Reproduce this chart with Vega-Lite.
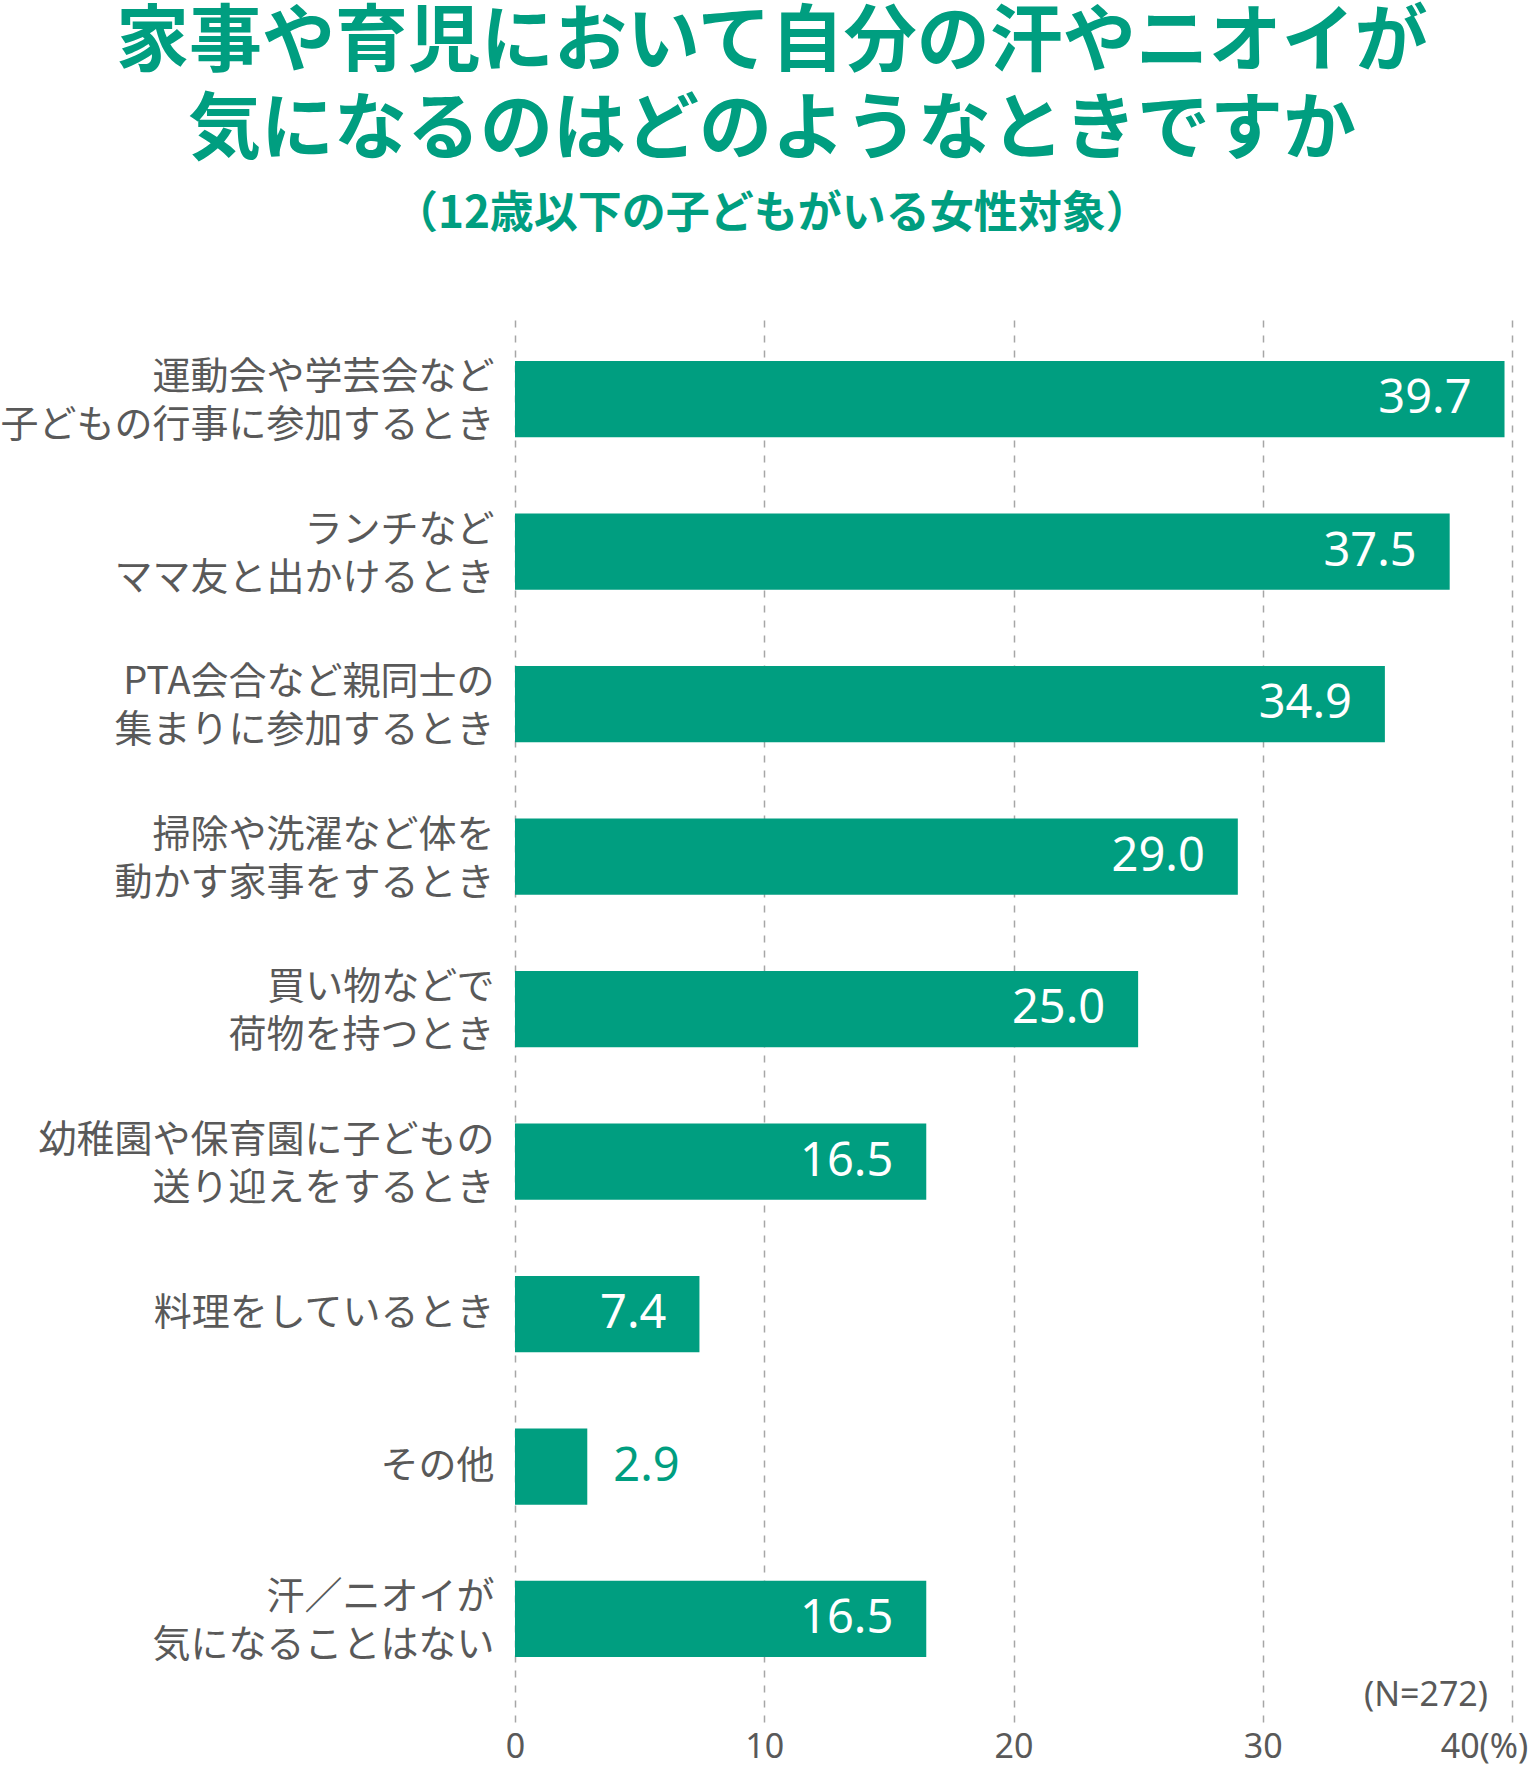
{
  "$schema": "https://vega.github.io/schema/vega-lite/v6.json",
  "description": "家事や育児において自分の汗やニオイが気になるとき",
  "autosize": {"type": "none"},
  "width": 997,
  "height": 1409,
  "padding": {"left": 515, "top": 313, "right": 28, "bottom": 43},
  "background": "white",
  "title": {
    "text": ["家事や育児において自分の汗やニオイが", "気になるのはどのようなときですか"],
    "subtitle": "（12歳以下の子どもがいる女性対象）",
    "anchor": "middle",
    "frame": "bounds",
    "dx": 8,
    "font": "Noto Sans CJK JP",
    "fontSize": 73,
    "fontWeight": "bold",
    "lineHeight": 88,
    "color": "#009e80",
    "subtitleFont": "Noto Sans CJK JP",
    "subtitleFontSize": 44,
    "subtitleFontWeight": "bold",
    "subtitleColor": "#009e80",
    "subtitlePadding": 25,
    "offset": 76
  },
  "config": {"view": {"stroke": null}},
  "datasets": {
    "answers": [
      {"item": "運動会や学芸会など|子どもの行事に参加するとき", "value": 39.7},
      {"item": "ランチなど|ママ友と出かけるとき", "value": 37.5},
      {"item": "PTA会合など親同士の|集まりに参加するとき", "value": 34.9},
      {"item": "掃除や洗濯など体を|動かす家事をするとき", "value": 29.0},
      {"item": "買い物などで|荷物を持つとき", "value": 25.0},
      {"item": "幼稚園や保育園に子どもの|送り迎えをするとき", "value": 16.5},
      {"item": "料理をしているとき", "value": 7.4},
      {"item": "その他", "value": 2.9},
      {"item": "汗／ニオイが|気になることはない", "value": 16.5}
    ],
    "note": [
      {"item": "汗／ニオイが|気になることはない", "value": 40, "text": "(N=272)"}
    ]
  },
  "encoding": {
    "y": {
      "field": "item",
      "type": "nominal",
      "sort": null,
      "title": null,
      "scale": {"paddingInner": 0.5, "paddingOuter": 0.37, "align": 0.425},
      "axis": {
        "domain": false,
        "ticks": false,
        "labelExpr": "split(datum.label, '|')",
        "labelOffset": {"condition": {"test": "indexof(datum.value, '|') >= 0", "value": -21}, "value": 0},
        "labelFont": "Noto Sans CJK JP",
        "labelFontSize": 38,
        "labelLineHeight": 48,
        "labelColor": "#595959",
        "labelPadding": 21,
        "labelLimit": 0
      }
    },
    "x": {
      "field": "value",
      "type": "quantitative",
      "title": null,
      "scale": {"domain": [0, 40], "nice": false},
      "axis": {
        "values": [0, 10, 20, 30, 40],
        "domain": false,
        "ticks": false,
        "grid": true,
        "gridColor": "#a6a6a6",
        "gridDash": [7, 8],
        "gridWidth": 1.5,
        "labelFlush": false,
        "labelExpr": "datum.value == 40 ? '40(%)' : datum.label",
        "labelOffset": {"condition": {"test": "datum.value == 40", "value": -28}, "value": 0},
        "labelFont": "Noto Sans",
        "labelFontSize": 34,
        "labelColor": "#595959",
        "labelPadding": 8
      }
    }
  },
  "layer": [
    {
      "data": {"name": "answers"},
      "mark": {"type": "bar", "color": "#009e80"}
    },
    {
      "data": {"name": "answers"},
      "transform": [{"filter": "datum.value >= 5"}],
      "mark": {"type": "text", "align": "right", "baseline": "middle", "dx": -33, "font": "Noto Sans", "fontSize": 47, "color": "white"},
      "encoding": {"text": {"field": "value", "type": "quantitative", "format": ".1f"}}
    },
    {
      "data": {"name": "answers"},
      "transform": [{"filter": "datum.value < 5"}],
      "mark": {"type": "text", "align": "left", "baseline": "middle", "dx": 26, "font": "Noto Sans", "fontSize": 47, "color": "#009e80"},
      "encoding": {"text": {"field": "value", "type": "quantitative", "format": ".1f"}}
    },
    {
      "data": {"name": "note"},
      "mark": {"type": "text", "align": "right", "baseline": "middle", "dx": -24, "dy": 77, "font": "Noto Sans", "fontSize": 34, "color": "#595959"},
      "encoding": {"text": {"field": "text", "type": "nominal"}}
    }
  ]
}
